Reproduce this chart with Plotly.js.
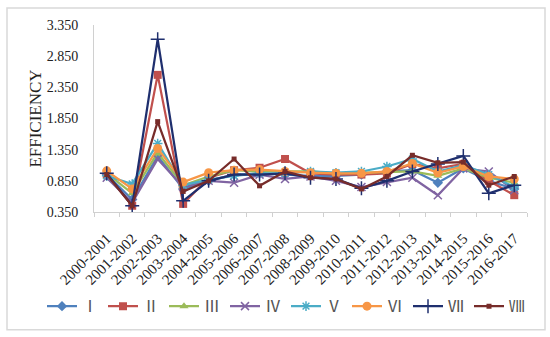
<!DOCTYPE html>
<html>
<head>
<meta charset="utf-8">
<script src="https://cdn.plot.ly/plotly-3.0.1.min.js"></script>
<style>html,body{margin:0;padding:0;background:#fff;}#chart{width:550px;height:337px;}</style>
</head>
<body>
<div id="chart"></div>
<script>
const categories = ["2000-2001","2001-2002","2002-2003","2003-2004","2004-2005","2005-2006","2006-2007","2007-2008","2008-2009","2009-2010","2010-2011","2011-2012","2012-2013","2013-2014","2014-2015","2015-2016","2016-2017"];
const seriesNames = ["Ⅰ","Ⅱ","Ⅲ","Ⅳ","Ⅴ","Ⅵ","Ⅶ","Ⅷ"];
const s1 = [0.95,0.55,1.25,0.72,0.85,0.95,0.97,0.95,0.93,0.93,0.95,1.00,1.02,0.82,1.05,0.85,0.72];
const s2 = [0.95,0.45,2.55,0.48,0.90,1.02,1.06,1.20,0.97,0.95,0.95,0.97,1.12,1.05,1.12,0.85,0.62];
const s3 = [0.97,0.65,1.30,0.78,0.92,1.02,1.00,1.00,1.00,0.97,0.98,1.00,1.00,0.93,1.05,0.90,0.82];
const s4 = [0.90,0.50,1.20,0.75,0.85,0.82,0.95,0.88,0.92,0.85,0.75,0.83,0.90,0.62,1.05,1.00,0.70];
const s5 = [0.93,0.80,1.45,0.78,0.87,0.93,0.97,0.97,1.00,0.98,1.00,1.08,1.20,1.00,1.10,0.95,0.75];
const s6 = [1.01,0.72,1.37,0.83,0.98,1.02,1.03,1.00,0.98,0.97,0.97,1.00,1.13,0.98,1.08,0.92,0.88];
const s7 = [0.97,0.45,3.12,0.53,0.85,0.95,0.95,0.97,0.90,0.88,0.73,0.85,1.00,1.12,1.25,0.65,0.78];
const s8 = [0.95,0.45,1.80,0.68,0.85,1.20,0.77,1.00,0.90,0.88,0.72,0.92,1.26,1.14,1.15,0.78,0.92];
const yTicks = [0.35,0.85,1.35,1.85,2.35,2.85,3.35];

const allSeries = [s1,s2,s3,s4,s5,s6,s7,s8];
const colors = ["#4F81BD","#C0504D","#9BBB59","#8064A2","#4BACC6","#F79646","#1F2F6E","#772C2A"];
const symbols = ["diamond","square","triangle-up","x-thin","asterisk","circle","cross-thin","square"];
const sizes = [8,8,8,8,8,9,10,5];

const traces = allSeries.map((vals, i) => {
  const thin = symbols[i].indexOf("thin") >= 0 || symbols[i] === "asterisk";
  return {
    x: categories, y: vals, name: seriesNames[i], type: "scatter", mode: "lines+markers",
    line: {color: colors[i], width: 2.25},
    marker: {symbol: symbols[i], size: sizes[i], color: colors[i],
             line: {color: colors[i], width: thin ? 1.5 : 0}}
  };
});

const font = "Liberation Serif, Times New Roman, Noto Sans CJK SC, serif";
const layout = {
  width: 550, height: 337,
  margin: {l: 94, r: 23, t: 25, b: 124.5},
  paper_bgcolor: "#fff", plot_bgcolor: "#fff",
  font: {family: font, size: 13, color: "#333"},
  showlegend: true,
  legend: {orientation: "h", x: -52/433, xanchor: "left", y: -0.504, yanchor: "middle",
           entrywidth: 16, entrywidthmode: "pixels", itemwidth: 30, tracegroupgap: 0,
           font: {family: font, size: 16, color: "#555"}},
  xaxis: {type: "category", tickangle: -45, showgrid: false, showline: true,
          linecolor: "#D0D0D0", linewidth: 1, ticks: "outside", tickson: "boundaries",
          ticklen: 4, tickcolor: "#D0D0D0", ticklabelstandoff: 11,
          tickfont: {family: font, size: 15, color: "#222"},
          range: [-0.5, categories.length - 0.5]},
  yaxis: {range: [0.35, 3.35], tickvals: yTicks, tickformat: ".3f", showgrid: false,
          zeroline: false, showline: true, linecolor: "#D0D0D0", linewidth: 1,
          ticks: "", ticklabelstandoff: 12, tickfont: {family: font, size: 14, color: "#222"},
          title: {text: "EFFICIENCY", font: {family: font, size: 17, color: "#222"}, standoff: 0}},
  shapes: [{type: "rect", xref: "paper", yref: "paper",
            x0: -87/433, x1: 1 + 18/433, y0: -118/187.5, y1: 1 + 17/187.5,
            line: {color: "#D9D9D9", width: 1.5}, fillcolor: "rgba(0,0,0,0)", layer: "below"}]
};

Plotly.newPlot("chart", traces, layout, {displayModeBar: false, staticPlot: true});
</script>
</body>
</html>
